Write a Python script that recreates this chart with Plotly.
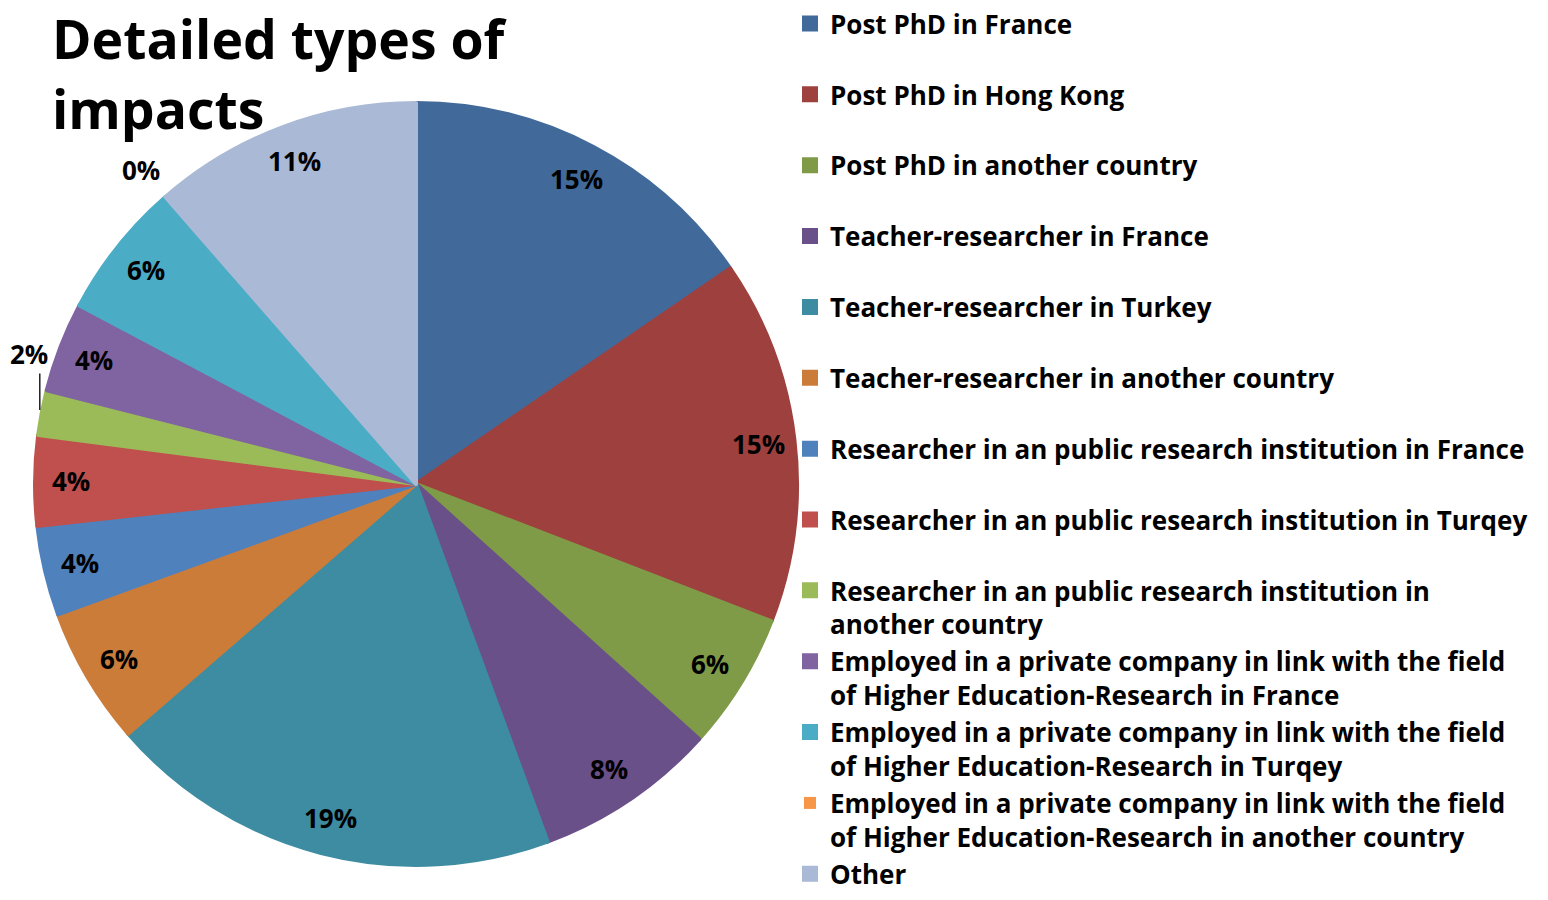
import math
import plotly.graph_objects as go

# ---- data ----
legend_lines = [
    ["Post PhD in France"],
    ["Post PhD in Hong Kong"],
    ["Post PhD in another country"],
    ["Teacher-researcher in France"],
    ["Teacher-researcher in Turkey"],
    ["Teacher-researcher in another country"],
    ["Researcher in an public research institution in France"],
    ["Researcher in an public research institution in Turqey"],
    ["Researcher in an public research institution in", "another country"],
    ["Employed in a private company in link with the field", "of Higher Education-Research in France"],
    ["Employed in a private company in link with the field", "of Higher Education-Research in Turqey"],
    ["Employed in a private company in link with the field", "of Higher Education-Research in another country"],
    ["Other"],
]
values = [15.4, 15.4, 5.8, 7.7, 19.2, 5.8, 3.8, 3.8, 1.9, 3.8, 5.8, 0.0, 11.4]
colors = ["#416A9A", "#9E413E", "#7F9B48", "#6A5088", "#3D8CA2", "#CC7C39",
          "#4F81BD", "#C0504D", "#9BBB59", "#8064A2", "#4BACC6", "#F79646", "#A9B9D6"]
title_text = "Detailed types of<br>impacts"

# ---- layout geometry ----
W, H = 1548, 900
FONT = "Open Sans"
LW = 4  # slice outline width in own colour (also enlarges legend swatches)
dom_x = [(33 + LW / 2) / W, (799 - LW / 2) / W]
dom_y = [1 - (867 - LW / 2) / H, 1 - (101 + LW / 2) / H]

# legend texts (pad single-line items to a uniform two-line height except the last)
leg_text = []
for i, lines in enumerate(legend_lines):
    t = "<br>".join(lines)
    if len(lines) == 1 and i < len(legend_lines) - 1:
        t += "<br> "
    leg_text.append("<span style='font-size:26px'>" + t + "</span>")

line_widths = [LW if v > 0 else 0 for v in values]

fig = go.Figure()
fig.add_trace(go.Pie(
    labels=leg_text,
    values=values,
    sort=False,
    direction="clockwise",
    rotation=0,
    marker=dict(colors=colors, line=dict(color=colors, width=line_widths)),
    textinfo="none",
    hoverinfo="label+percent",
    domain=dict(x=dom_x, y=dom_y),
))

# percentage labels placed near the rim along each slice's mid-angle
total = sum(values)
cx = (dom_x[0] + dom_x[1]) / 2
cy = (dom_y[0] + dom_y[1]) / 2
R_px = min((dom_x[1] - dom_x[0]) * W, (dom_y[1] - dom_y[0]) * H) / 2 + LW / 2
lab_font = dict(family=FONT, size=26, color="black", weight="bold")
cum = 0.0
annotations = []
for v in values:
    frac = v / total
    mid = (cum + frac / 2) * 2 * math.pi
    cum += frac
    pct = f"{round(frac * 100)}%"
    sx, sy = math.sin(mid), math.cos(mid)
    if frac >= 0.03:
        r = 0.9 * R_px
        annotations.append(dict(x=cx + r * sx / W, y=cy + r * sy / H, xref="paper", yref="paper",
                                xanchor="center", yanchor="middle",
                                text=pct, showarrow=False, font=lab_font))
    elif frac > 0:
        px, py = cx + R_px * sx / W, cy + R_px * sy / H
        annotations.append(dict(x=px, y=py, xref="paper", yref="paper", text="",
                                showarrow=True, arrowhead=0, arrowwidth=1.3,
                                arrowcolor="black", ax=0, ay=-40, standoff=2))
        annotations.append(dict(x=px, y=py, xref="paper", yref="paper",
                                xanchor="center", yanchor="middle", xshift=-11, yshift=58,
                                text=pct, showarrow=False, font=lab_font))
    else:
        r = 1.09 * R_px
        annotations.append(dict(x=cx + r * sx / W, y=cy + r * sy / H, xref="paper", yref="paper",
                                xanchor="center", yanchor="middle",
                                text=pct, showarrow=False, font=lab_font))

# title
annotations.append(dict(x=50 / W, y=1.0, xref="paper", yref="paper", xanchor="left", yanchor="top",
                        align="left", text=title_text, showarrow=False,
                        font=dict(family=FONT, size=53.5, color="black", weight="bold")))

fig.update_layout(
    width=W, height=H,
    margin=dict(l=0, r=0, t=0, b=0),
    paper_bgcolor="white",
    plot_bgcolor="white",
    showlegend=True,
    legend=dict(x=790 / W, xanchor="left", y=1.0, yanchor="top", valign="top",
                font=dict(family=FONT, size=26.1, color="black", weight="bold"),
                bgcolor="rgba(0,0,0,0)"),
    annotations=annotations,
)

fig.write_html("out.html", config={"displayModeBar": False},
               post_script="document.body.style.margin='0';")
